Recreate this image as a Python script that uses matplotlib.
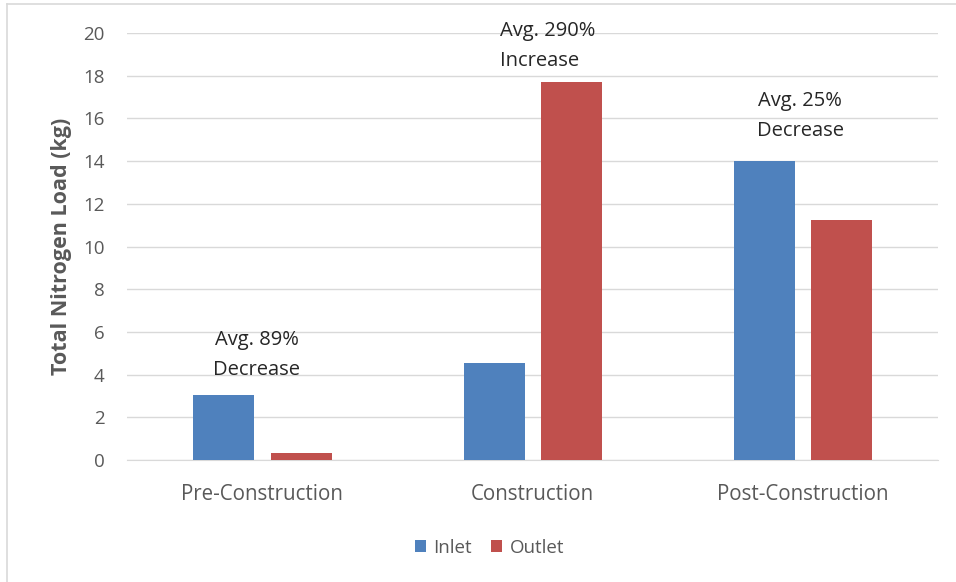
import numpy as np
import matplotlib.pyplot as plt
from matplotlib.lines import Line2D

# Chart data
phases = ['Pre-Construction', 'Construction', 'Post-Construction']
inlet = [3.05, 4.55, 14.0]
outlet = [0.35, 17.7, 11.25]
notes = ['Avg. 89%\nDecrease', 'Avg. 290%\nIncrease', 'Avg. 25%\nDecrease']
yTicks = [0, 2, 4, 6, 8, 10, 12, 14, 16, 18, 20]

# Annotation placement (data coords)
noteX = [-0.02, 0.055, -0.01]
noteY = [4.92, 19.4, 16.1]
noteAlign = ['center', 'left', 'center']

plt.rcParams['font.family'] = ['Open Sans', 'DejaVu Sans']

fig = plt.figure(figsize=(9.56, 5.82), dpi=100)
ax = fig.add_axes([127/956, 1 - 460/582, 811/956, 427/582])

x = np.arange(len(phases))
barWidth = 0.225
ax.bar(x - 0.142, inlet, barWidth, color='#4F81BD', label='Inlet', zorder=3)
ax.bar(x + 0.144, outlet, barWidth, color='#C0504D', label='Outlet', zorder=3)

# Annotations above each group
for i in range(len(phases)):
    ax.text(x[i] + noteX[i], noteY[i], notes[i], ha='center', va='center',
            multialignment=noteAlign[i], fontsize=14.5, color='#262626',
            linespacing=1.68, zorder=4)

# Formatting
ax.set_xlim(-0.5, 2.5)
ax.set_ylim(0, 20)
ax.set_yticks(yTicks)
ax.set_xticks(x)
ax.set_xticklabels(phases)
ax.yaxis.grid(True, color='#D9D9D9', linewidth=1, zorder=0)
ax.tick_params(axis='both', length=0, labelcolor='#595959')
ax.tick_params(axis='x', pad=17, labelsize=14.8)
ax.tick_params(axis='y', pad=16, labelsize=13.5)
for side in ['top', 'right', 'left']:
    ax.spines[side].set_visible(False)
ax.spines['bottom'].set_color('#D9D9D9')
ax.set_ylabel('Total Nitrogen Load (kg)', fontsize=15.5, fontweight='bold',
              color='#595959', labelpad=8)

ax.legend(loc='center', bbox_to_anchor=(0.447, -0.205), ncol=2,
          frameon=False, fontsize=13.5, labelcolor='#595959',
          handlelength=0.6, handleheight=0.6, handletextpad=0.4,
          columnspacing=1.0)

# Chart frame (left and top edges)
fig.add_artist(Line2D([7/956, 7/956], [0, 1 - 4/582], color='#D9D9D9', linewidth=1.2))
fig.add_artist(Line2D([7/956, 1], [1 - 4/582, 1 - 4/582], color='#D9D9D9', linewidth=1.2))

fig.savefig('out.png', dpi=100)
